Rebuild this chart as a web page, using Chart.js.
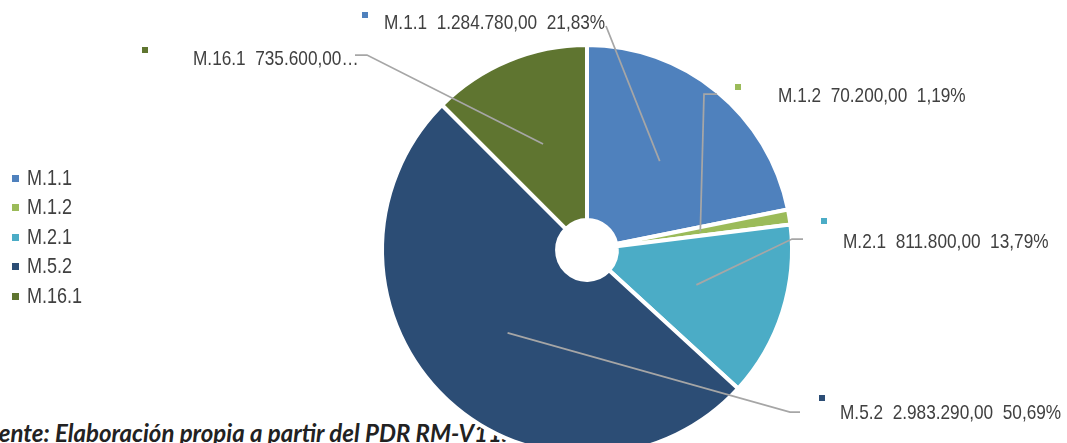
<!DOCTYPE html>
<html>
<head>
<meta charset="utf-8">
<script src="https://cdn.jsdelivr.net/npm/chart.js@4.4.1/dist/chart.umd.min.js"></script>
<style>
  html, body { margin: 0; padding: 0; background: #fff; overflow: hidden; }
  body { width: 1067px; height: 443px; position: relative; }
  #wrap { position: absolute; left: 0; top: 0; width: 1067px; height: 470px; z-index: 2; }
  #source { position: absolute; top: 418px; left: 0; font: italic bold 24px Lato, sans-serif; color: #222; white-space: nowrap; z-index: 1; }
  #legend { position: absolute; left: 0; top: 0; z-index: 3; font-family: "Liberation Sans", Arial, sans-serif; font-size: 22px; color: #404040; }
  .item { position: absolute; left: 0; height: 26px; line-height: 26px; white-space: nowrap; }
  .item i { position: absolute; left: 12px; top: 10px; width: 7px; height: 7px; }
  .item span { position: absolute; left: 27px; top: 0; transform: scaleX(0.82); transform-origin: 0 50%; }
</style>
</head>
<body>
<div id="source"><span id="cut">Fu</span>ente: Elaboración propia a partir del PDR RM-V11.1</div>
<div id="wrap"><canvas id="pie" width="1067" height="470"></canvas></div>
<div id="legend"></div>
<script>
const categories = ['M.1.1', 'M.1.2', 'M.2.1', 'M.5.2', 'M.16.1'];
const amounts = [1284780, 70200, 811800, 2983290, 735600];
const colors = ['#4F81BD', '#9BBB59', '#4BACC6', '#2C4D75', '#5F7530'];

// where each data label sits (text start, baseline, marker, leader elbow points)
const labelLayout = [
  { tx: 384, ty: 29, mx: 362, my: 12, line: [[606, 26]] },
  { tx: 778, ty: 102, mx: 735, my: 84, line: [[717, 94], [704, 94]] },
  { tx: 843, ty: 248, mx: 821, my: 218, line: [[803, 239], [792, 239]] },
  { tx: 840, ty: 419, mx: 819, my: 395, line: [[800, 412], [790, 412]] },
  { tx: 193, ty: 65, mx: 142, my: 47, line: [[355, 55], [367, 55]], cut: true }
];
const legendY = [178, 207, 237, 266, 296];

const total = amounts.reduce((a, b) => a + b, 0);

function fmt(n) {
  const parts = n.toFixed(2).split('.');
  return parts[0].replace(/\B(?=(\d{3})+(?!\d))/g, '.') + ',' + parts[1];
}

function labelText(i) {
  const pct = (amounts[i] / total * 100).toFixed(2).replace('.', ',') + '%';
  if (labelLayout[i].cut) return categories[i] + '  ' + fmt(amounts[i]) + '…';
  return categories[i] + '  ' + fmt(amounts[i]) + '  ' + pct;
}

// legend
const legend = document.getElementById('legend');
categories.forEach((c, i) => {
  const d = document.createElement('div');
  d.className = 'item';
  d.style.top = (legendY[i] - 13) + 'px';
  d.innerHTML = `<i style="background:${colors[i]}"></i><span>${c}</span>`;
  legend.appendChild(d);
});

// source line starts mid-word at the left edge
const cut = document.getElementById('cut');
document.getElementById('source').style.left = (-cut.offsetWidth - 1) + 'px';

const leaders = {
  id: 'leaders',
  afterDatasetsDraw(chart) {
    const ctx = chart.ctx;
    const arcs = chart.getDatasetMeta(0).data;
    ctx.save();
    arcs.forEach((arc, i) => {
      const p = arc.getProps(['x', 'y', 'startAngle', 'endAngle', 'outerRadius'], true);
      const mid = (p.startAngle + p.endAngle) / 2;
      const ax = p.x + Math.cos(mid) * p.outerRadius * 0.56;
      const ay = p.y + Math.sin(mid) * p.outerRadius * 0.56;
      const lay = labelLayout[i];
      ctx.strokeStyle = '#a6a6a6';
      ctx.lineWidth = 1.75;
      ctx.beginPath();
      ctx.moveTo(lay.line[0][0], lay.line[0][1]);
      lay.line.slice(1).forEach(pt => ctx.lineTo(pt[0], pt[1]));
      ctx.lineTo(ax, ay);
      ctx.stroke();

      ctx.fillStyle = colors[i];
      ctx.fillRect(lay.mx, lay.my, 6, 6);

      // narrow look: squeeze the regular face horizontally
      ctx.save();
      ctx.translate(lay.tx, lay.ty);
      ctx.scale(0.82, 1);
      ctx.fillStyle = '#404040';
      ctx.font = '21px "Liberation Sans", Arial, sans-serif';
      ctx.textBaseline = 'alphabetic';
      ctx.textAlign = 'left';
      ctx.fillText(labelText(i), 0, 0);
      ctx.restore();
    });
    ctx.restore();
  }
};

new Chart(document.getElementById('pie').getContext('2d'), {
  type: 'doughnut',
  data: {
    labels: categories,
    datasets: [{
      data: amounts,
      backgroundColor: colors,
      borderColor: '#ffffff',
      borderWidth: 4,
      hoverOffset: 0,
      offset: 0
    }]
  },
  options: {
    responsive: false,
    maintainAspectRatio: false,
    animation: false,
    cutout: '14.6%',
    layout: { padding: { left: 380, right: 273, top: 43, bottom: 13 } },
    plugins: {
      legend: { display: false },
      tooltip: { enabled: false }
    }
  },
  plugins: [leaders]
});
</script>
</body>
</html>
